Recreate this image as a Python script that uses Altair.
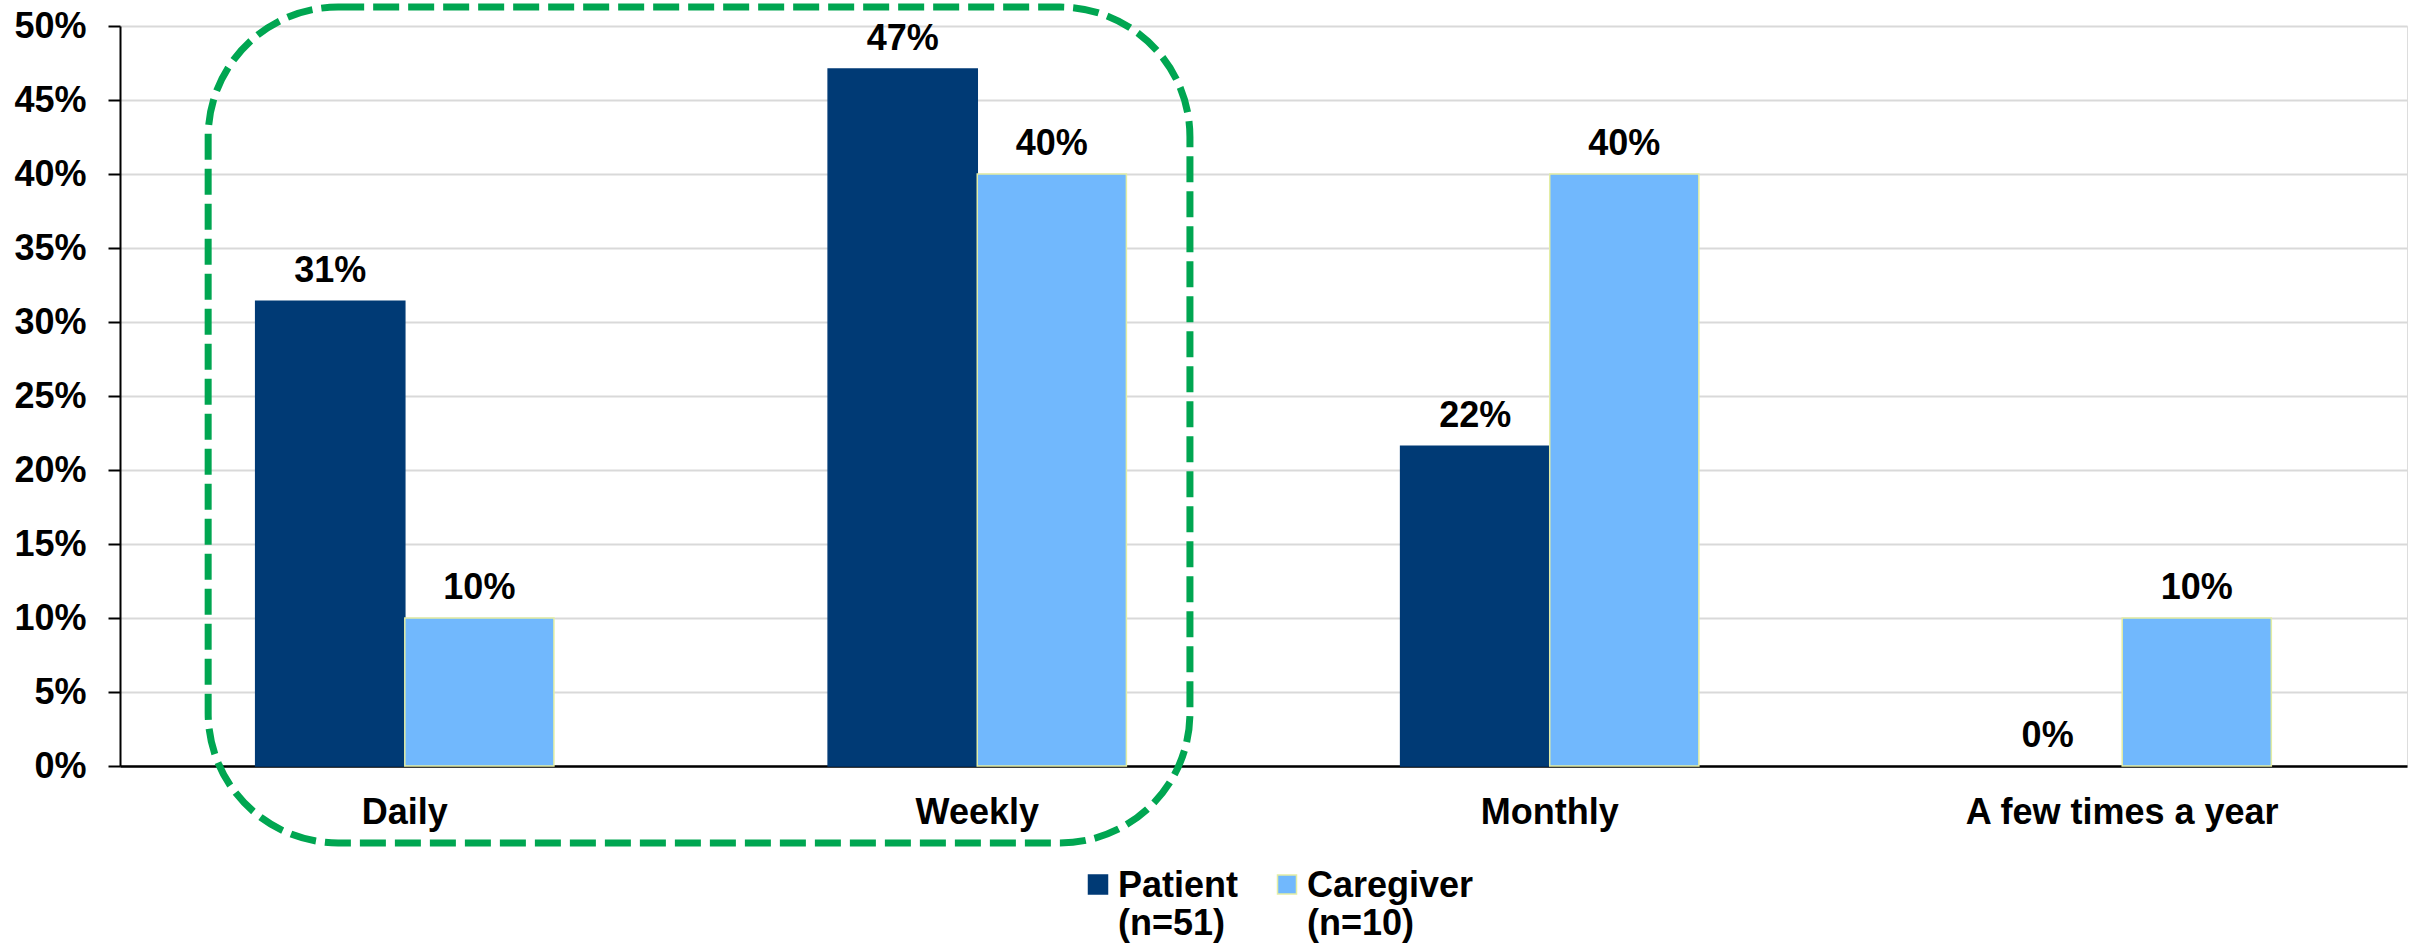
import altair as alt
import pandas as pd

# ---- data ----
categories = ["Daily", "Weekly", "Monthly", "A few times a year"]
series_names = ["Patient", "Caregiver"]
series_n = ["(n=51)", "(n=10)"]
patient_values = [0.314, 0.471, 0.216, 0.0]
caregiver_values = [0.10, 0.40, 0.40, 0.10]
y_ticks = [0.0, 0.05, 0.10, 0.15, 0.20, 0.25, 0.30, 0.35, 0.40, 0.45, 0.50]

# highlight box around Daily + Weekly (x in category-step units, y in value units)
box_x = [0.154, 1.869]
box_y = [0.5128, -0.052]

# ---- style ----
FONT = "Liberation Sans"
FILL = ["#003A75", "#71B8FD"]
STROKE = ["#003A75", "#E3EDA4"]
GREEN = "#00A651"
W, H = 2287, 740
P_IN, P_OUT = 0.479, 0.237
n_steps = len(categories) - P_IN + 2 * P_OUT

rows = []
for c, p, g in zip(categories, patient_values, caregiver_values):
    rows.append({"cat": c, "series": series_names[0], "value": p})
    rows.append({"cat": c, "series": series_names[1], "value": g})
df = pd.DataFrame(rows)

box_df = pd.DataFrame({"x0": [box_x[0]], "x1": [box_x[1]],
                       "y0": [box_y[0]], "y1": [box_y[1]]})

label_expr = "[datum.label, " + " : ".join(
    [f"datum.label == '{s}' ? '{n}'" for s, n in zip(series_names[:-1], series_n[:-1])]
    + [f"'{series_n[-1]}'"]) + "]"

yscale = alt.Scale(domain=[0, 0.5], nice=False, zero=True)
xscale = alt.Scale(domain=categories, paddingInner=P_IN, paddingOuter=P_OUT)
xo = alt.XOffset("series:N", sort=series_names,
                 scale=alt.Scale(domain=series_names, paddingInner=0, paddingOuter=0))

xaxis = alt.Axis(title=None, labelFont=FONT, labelFontSize=36, labelFontWeight="bold",
                 labelColor="black", ticks=False, tickSize=0, labelPadding=29,
                 domainColor="black", domainWidth=2.5, grid=False, labelAngle=0,
                 labelLimit=1000)
yaxis = alt.Axis(title=None, values=y_ticks, format=".0%", labelFont=FONT,
                 labelFontSize=36, labelFontWeight="bold", labelColor="black",
                 tickSize=12, tickWidth=2, tickColor="black", domainColor="black",
                 domainWidth=2, gridColor="#D9D9D9", gridWidth=2, labelPadding=22)

sym_path = "M-1,-2.316H1V-0.316H-1Z"
legend = alt.Legend(title=None, orient="none", legendX=960, legendY=853,
                    direction="horizontal", labelFont=FONT, labelFontSize=36,
                    labelFontWeight="bold", labelColor="black", symbolType=sym_path,
                    symbolSize=361, symbolStrokeWidth=1.5, labelOffset=2,
                    columnPadding=30, labelBaseline="alphabetic",
                    labelExpr=label_expr, padding=0, labelLimit=600)

bars = alt.Chart(df).transform_filter("datum.value > 0").mark_bar(strokeWidth=1.5).encode(
    x=alt.X("cat:N", sort=categories, scale=xscale, axis=xaxis),
    xOffset=xo,
    y=alt.Y("value:Q", scale=yscale, axis=yaxis),
    color=alt.Color("series:N", sort=series_names,
                    scale=alt.Scale(domain=series_names, range=FILL), legend=legend),
    stroke=alt.Stroke("series:N", sort=series_names,
                      scale=alt.Scale(domain=series_names, range=STROKE), legend=legend),
)

labels = alt.Chart(df).mark_text(font=FONT, fontSize=36, fontWeight="bold",
                                 color="black", baseline="alphabetic", dy=-19).encode(
    x=alt.X("cat:N", sort=categories, scale=xscale, axis=xaxis),
    xOffset=xo,
    y=alt.Y("value:Q", scale=yscale, axis=yaxis),
    text=alt.Text("value:Q", format=".0%"),
)

box = alt.Chart(box_df).mark_rect(filled=False, stroke=GREEN, strokeWidth=7,
                                  strokeDash=[26, 9], cornerRadius=130).encode(
    x=alt.X("x0:Q", scale=alt.Scale(domain=[0, n_steps], nice=False, zero=False), axis=None),
    x2="x1",
    y=alt.Y("y0:Q", scale=yscale, axis=yaxis),
    y2="y1",
)

chart = alt.layer(alt.layer(bars, labels), box).resolve_scale(x="independent").properties(
    width=W, height=H,
    padding={"left": 120, "top": 26, "right": 6, "bottom": 181},
    autosize=alt.AutoSizeParams(type="none"),
).configure_view(stroke=None).configure(background="white")

chart.save("out.html", embed_options={"renderer": "svg", "actions": False})
